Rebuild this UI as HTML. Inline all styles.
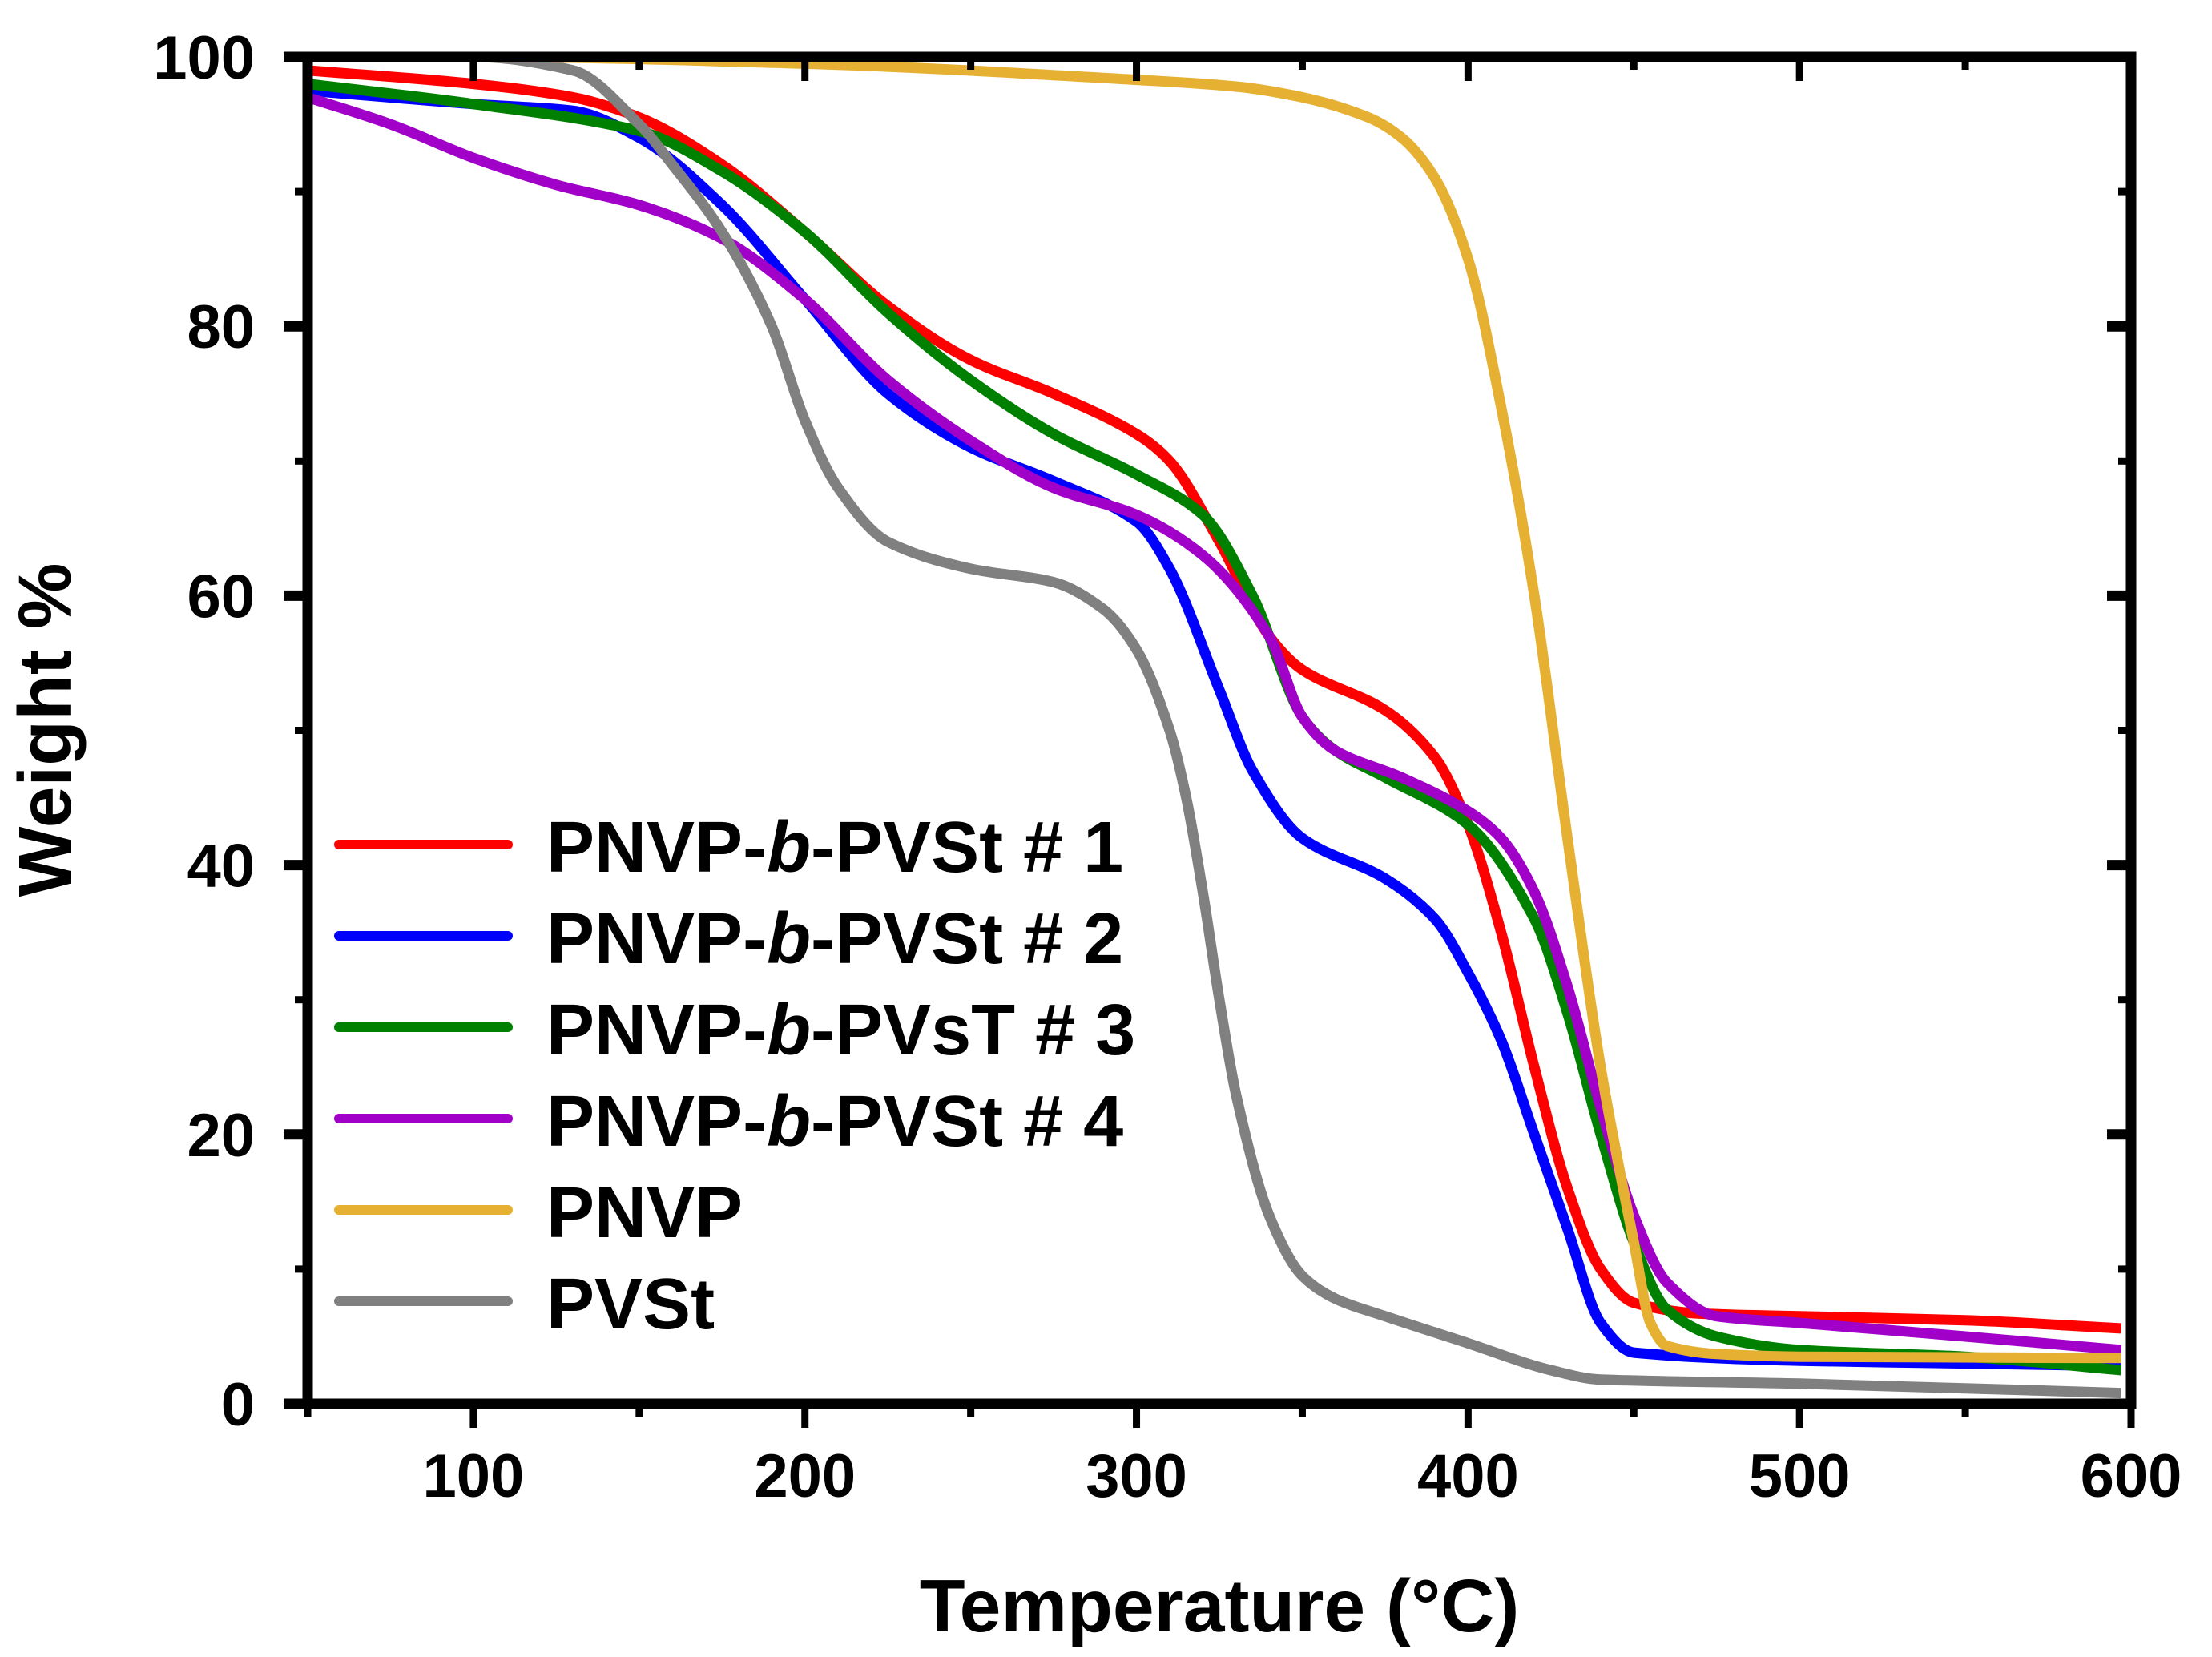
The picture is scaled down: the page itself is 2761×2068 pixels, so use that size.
<!DOCTYPE html>
<html><head><meta charset="utf-8"><style>
html,body{margin:0;padding:0;background:#fff;}
svg{display:block;font-family:"Liberation Sans",Arial,sans-serif;font-weight:bold;}
</style></head><body>
<svg id="chart" width="2761" height="2068" viewBox="0 0 2761 2068" xmlns="http://www.w3.org/2000/svg">
<g id="plot"></g>
<g id="axes"></g>
<g id="legend"></g>
<text x="1522" y="2036" font-size="93" text-anchor="middle">Temperature (°C)</text>
<text transform="translate(88,911) rotate(-90)" font-size="93" text-anchor="middle">Weight %</text>
</svg>
<script>
const xTicks=[100,200,300,400,500,600];
const yTicks=[0,20,40,60,80,100];
const seriesNames=["PNVP-b-PVSt # 1","PNVP-b-PVSt # 2","PNVP-b-PVsT # 3","PNVP-b-PVSt # 4","PNVP","PVSt"];
const s1T=[50,100,130,150,175,200,225,250,275,300,310,325,340,350,375,390,400,410,420,430,440,450,470,500,550,597];
const s1W=[99,98,97,95.5,92,87,81.5,77.5,75,72,70,64,57,54.5,51.5,48,43,35,25,16,10,7.5,6.7,6.5,6.2,5.6];
const s2T=[50,100,130,150,175,200,225,250,275,300,310,325,335,350,375,390,400,410,420,430,440,450,500,550,597];
const s2W=[97.5,96.5,96,94,89,82,75,71,68.5,65.5,62,53,47,42,39,36,32,27,20,13,6,3.8,3.2,3,2.8];
const s3T=[50,100,150,175,200,225,250,275,300,320,335,350,360,375,400,420,430,440,450,460,475,500,550,597];
const s3W=[98,96.5,94.5,91.5,87,81,76,72,69,66,60,51,48.5,46.5,43,36,29,20,12,7,5,4,3.5,2.5];
const s4T=[50,75,100,125,150,175,200,225,250,275,300,320,340,350,360,380,400,410,420,430,440,450,460,475,500,550,597];
const s4W=[97,95,92.5,90.5,89,86.5,82,76,71.5,68,66,63,57,51,48.5,46.5,44,42,38,31,22,14,9,6.5,6,5,4];
const s5T=[50,100,200,300,330,350,370,380,390,400,410,420,430,440,450,455,460,475,500,597];
const s5W=[100,100,99.5,98.3,97.8,97,95.5,94,91,85,74,60,42,25,12,6,4.3,3.7,3.5,3.4];
const s6T=[50,100,130,150,160,175,190,200,210,225,250,275,290,300,310,315,320,325,330,340,350,360,375,400,425,440,500,597];
const s6W=[100,100,99,95,92,87,80,73,68,64,62,61,59,56,50,45,38,30,23,14,9.5,7.8,6.5,4.5,2.5,1.8,1.5,0.8];
const colors=["#ff0000","#0000ff","#008000","#a000c8","#e6b033","#808080"];
const X0=384,X1=2660,Y0=1752,Y1=71;
const xs=t=>X0+(t-50)/550*(X1-X0);
const ys=w=>Y0-w/100*(Y0-Y1);
const NS="http://www.w3.org/2000/svg";
function mk(tag,parent,attrs){const e=document.createElementNS(NS,tag);for(const k in attrs)e.setAttribute(k,attrs[k]);parent.appendChild(e);return e;}
function monoPath(X,Y){
  const n=X.length,d=[],m=new Array(n);
  for(let i=0;i<n-1;i++)d.push((Y[i+1]-Y[i])/(X[i+1]-X[i]));
  m[0]=d[0];m[n-1]=d[n-2];
  for(let i=1;i<n-1;i++){ if(d[i-1]*d[i]<=0)m[i]=0; else m[i]=2/(1/d[i-1]+1/d[i]); }
  let s='M'+X[0].toFixed(1)+','+Y[0].toFixed(1);
  for(let i=0;i<n-1;i++){const h=(X[i+1]-X[i])/3;
    s+=' C'+(X[i]+h).toFixed(1)+','+(Y[i]+m[i]*h).toFixed(1)+' '+(X[i+1]-h).toFixed(1)+','+(Y[i+1]-m[i+1]*h).toFixed(1)+' '+X[i+1].toFixed(1)+','+Y[i+1].toFixed(1);}
  return s;
}
const plot=document.getElementById('plot');
const data=[[s1T,s1W],[s2T,s2W],[s3T,s3W],[s4T,s4W],[s6T,s6W],[s5T,s5W]];
const idx=[0,1,2,3,5,4];
const keys=['pnvp-b-pvst-1','pnvp-b-pvst-2','pnvp-b-pvst-3','pnvp-b-pvst-4','pnvp','pvst'];
data.forEach((d,i)=>{
  const k=idx[i];
  const p=mk('path',plot,{d:monoPath(d[0].map(xs),d[1].map(ys)),fill:'none',stroke:colors[k],'stroke-width':13,'stroke-linejoin':'round'});
  
  
});
const axes=document.getElementById('axes');
const fr=mk('rect',axes,{x:X0,y:Y1,width:X1-X0,height:Y0-Y1,fill:'none',stroke:'#000','stroke-width':13});


xTicks.forEach(t=>{
  const x=xs(t);
  mk('line',axes,{x1:x,x2:x,y1:Y0,y2:Y0+30,stroke:'#000','stroke-width':9});
  mk('line',axes,{x1:x,x2:x,y1:Y1,y2:Y1+30,stroke:'#000','stroke-width':9});
  const m=xs(t-50);
  mk('line',axes,{x1:m,x2:m,y1:Y0,y2:Y0+16,stroke:'#000','stroke-width':9});
  mk('line',axes,{x1:m,x2:m,y1:Y1,y2:Y1+16,stroke:'#000','stroke-width':9});
  const tx=mk('text',axes,{x:x,y:1868,'font-size':76,'text-anchor':'middle'});
  tx.textContent=t;
  
  
});
yTicks.forEach(w=>{
  const y=ys(w);
  mk('line',axes,{x1:X0-30,x2:X0,y1:y,y2:y,stroke:'#000','stroke-width':13});
  mk('line',axes,{x1:X1-30,x2:X1,y1:y,y2:y,stroke:'#000','stroke-width':13});
  if(w<100){const m=ys(w+10);
    mk('line',axes,{x1:X0-16,x2:X0,y1:m,y2:m,stroke:'#000','stroke-width':9});
    mk('line',axes,{x1:X1-16,x2:X1,y1:m,y2:m,stroke:'#000','stroke-width':9});}
  const tx=mk('text',axes,{x:318,y:y+27,'font-size':76,'text-anchor':'end'});
  tx.textContent=w;
  
  
});
const lg=document.getElementById('legend');
seriesNames.forEach((n,i)=>{
  const y=1054+i*114;
  const ln=mk('line',lg,{x1:423,x2:634,y1:y,y2:y,stroke:colors[i],'stroke-width':12,'stroke-linecap':'round'});
  
  
  const tx=mk('text',lg,{x:682,y:y+34,'font-size':90});
  
  
  if(n.indexOf('-b-')>0){const parts=n.split('-b-');
    tx.appendChild(document.createTextNode(parts[0]+'-'));
    const it=mk('tspan',tx,{'font-style':'italic'});it.textContent='b';
    tx.appendChild(document.createTextNode('-'+parts[1]));
  } else tx.textContent=n;
});
</script>
</body></html>
